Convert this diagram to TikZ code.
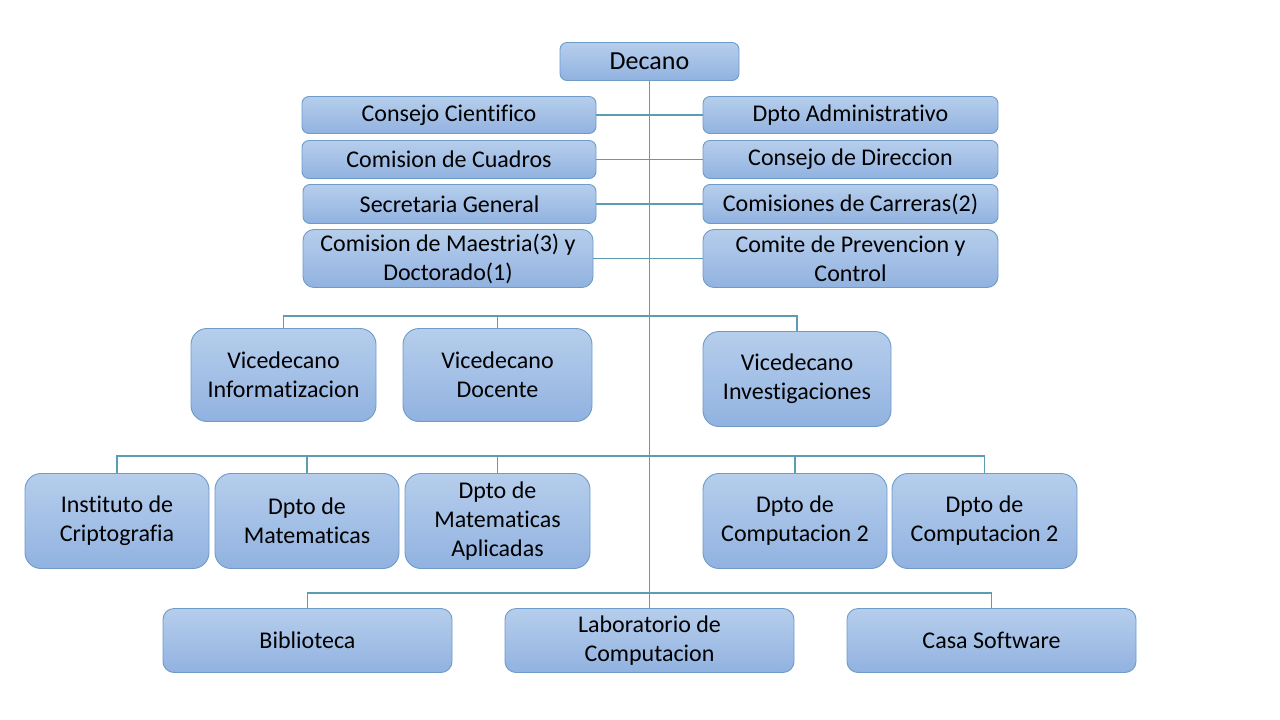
\documentclass[tikz,border=0pt]{standalone}
\usepackage{fontspec}
\setmainfont[RawFeature={-liga;-clig;-dlig}]{Carlito}
\definecolor{boxtop}{HTML}{B6CEEC}
\definecolor{boxbot}{HTML}{91B2E0}
\definecolor{boxborder}{HTML}{6E9BC8}
\definecolor{linkcol}{HTML}{5A9DB4}
\begin{document}
\begin{tikzpicture}[x=1pt,y=-1pt,
  box/.style={draw=boxborder, line width=0.9pt, top color=boxtop, bottom color=boxbot,
    align=center, inner sep=0pt, text=black,
    font=\fontsize{24}{29}\selectfont},
  flat/.style={box, rounded corners=7pt},
  tall/.style={box, rounded corners=11pt},
  big/.style={box, rounded corners=16pt},
  link/.style={draw=linkcol, line width=1.3pt}]
\useasboundingbox[fill=white] (0,0) rectangle (1280,720);

\node[flat, minimum width=179pt, minimum height=38pt, font=\fontsize{26}{31}\selectfont] (dec) at (649.5,61.5) {Decano};

\node[flat, minimum width=294pt, minimum height=37pt] (cc) at (449,115) {Consejo Cientifico};
\node[flat, minimum width=295pt, minimum height=37pt] (da) at (850.5,115) {Dpto Administrativo};
\node[flat, minimum width=294pt, minimum height=38pt] (cu) at (449,159.5) {Comision de Cuadros};
\node[flat, minimum width=295pt, minimum height=38pt] (cd) at (850.5,159.5) {Consejo de Direccion};
\node[flat, minimum width=293pt, minimum height=39pt] (sg) at (449.5,204) {Secretaria General};
\node[flat, minimum width=295pt, minimum height=39pt] (ca) at (850.5,204) {Comisiones de Carreras(2)};
\node[tall, minimum width=290pt, minimum height=58pt] (cm) at (448,258.5) {Comision de Maestria(3) y\\Doctorado(1)};
\node[tall, minimum width=295pt, minimum height=58pt] (cp) at (850.5,258.5) {Comite de Prevencion y\\Control};

\node[big, minimum width=185pt, minimum height=93pt] (vinf) at (283.5,375) {Vicedecano\\Informatizacion};
\node[big, minimum width=189pt, minimum height=93pt] (vdoc) at (497.5,375) {Vicedecano\\Docente};
\node[big, minimum width=188pt, minimum height=95pt] (vinv) at (797,379) {Vicedecano\\Investigaciones};

\node[big, minimum width=184pt, minimum height=95pt] (inst) at (117,521) {Instituto de\\Criptografia};
\node[big, minimum width=184pt, minimum height=95pt] (dmat) at (307,521) {Dpto de\\Matematicas};
\node[big, minimum width=185pt, minimum height=95pt] (dapl) at (497.5,521) {Dpto de\\Matematicas\\Aplicadas};
\node[big, minimum width=184pt, minimum height=95pt] (dc1) at (795,521) {Dpto de\\Computacion 2};
\node[big, minimum width=185pt, minimum height=95pt] (dc2) at (984.5,521) {Dpto de\\Computacion 2};

\node[tall, minimum width=289pt, minimum height=64pt] (bib) at (307.5,640.5) {Biblioteca};
\node[tall, minimum width=289pt, minimum height=64pt] (lab) at (649.5,640.5) {Laboratorio de\\Computacion};
\node[tall, minimum width=289pt, minimum height=64pt] (casa) at (991.5,640.5) {Casa Software};

\coordinate (bus1) at (0,316);
\coordinate (bus2) at (0,456);
\coordinate (bus3) at (0,593);

% spine
\draw[link] (dec.south) -- (lab.north);
% staff rows
\draw[link] (cc.east) -- (cc.east -| da.west);
\draw[link] (cu.east) -- (cu.east -| cd.west);
\draw[link] (sg.east) -- (sg.east -| ca.west);
\draw[link] (cm.east) -- (cm.east -| cp.west);
% vicedecanos
\draw[link] (vinf.north) -- (vinf.north |- bus1) -- (vinv.north |- bus1) -- (vinv.north);
\draw[link] (vdoc.north) -- (vdoc.north |- bus1);
% departments
\draw[link] (inst.north) -- (inst.north |- bus2) -- (dc2.north |- bus2) -- (dc2.north);
\draw[link] (dmat.north) -- (dmat.north |- bus2);
\draw[link] (dapl.north) -- (dapl.north |- bus2);
\draw[link] (dc1.north) -- (dc1.north |- bus2);
% bottom row
\draw[link] (bib.north) -- (bib.north |- bus3) -- (casa.north |- bus3) -- (casa.north);
\end{tikzpicture}
\end{document}
